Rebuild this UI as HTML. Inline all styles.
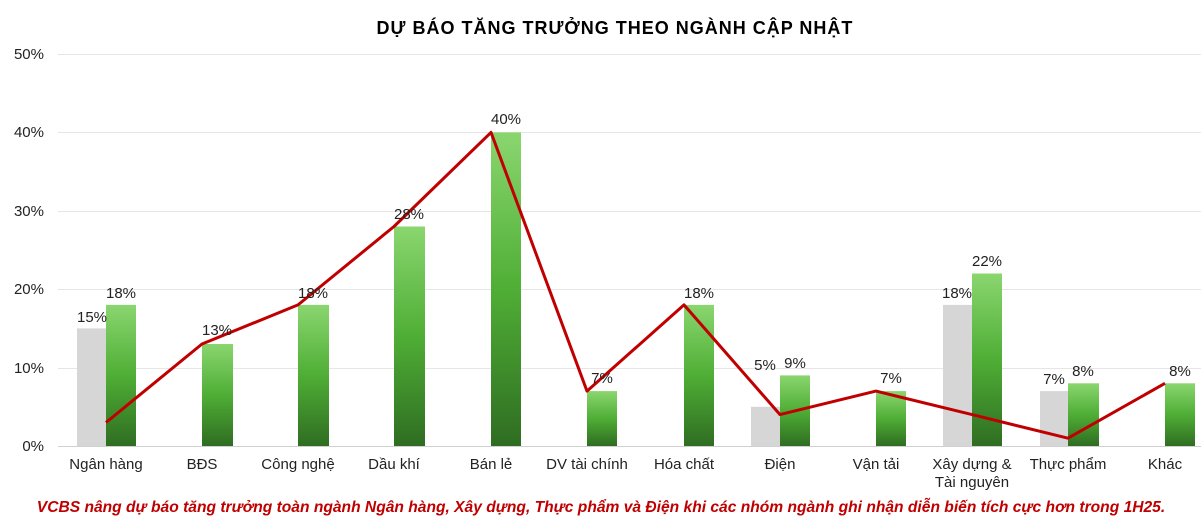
<!DOCTYPE html>
<html><head><meta charset="utf-8"><style>
body{margin:0;background:#fff;}
svg{display:block;font-family:"Liberation Sans",Arial,sans-serif;}
</style></head><body>
<svg width="1201" height="518" viewBox="0 0 1201 518" xmlns="http://www.w3.org/2000/svg">
<defs>
<linearGradient id="g" x1="0" y1="0" x2="0" y2="1">
<stop offset="0" stop-color="#8ad66f"/>
<stop offset="0.5" stop-color="#4fae35"/>
<stop offset="1" stop-color="#2f6d22"/>
</linearGradient>
</defs>
<text x="615" y="34" text-anchor="middle" font-size="18" font-weight="bold" letter-spacing="1" fill="#000">DỰ BÁO TĂNG TRƯỞNG THEO NGÀNH CẬP NHẬT</text>
<g stroke="#e6e6e6" stroke-width="1">
<line x1="58" x2="1201" y1="54.5" y2="54.5"/>
<line x1="58" x2="1201" y1="132.5" y2="132.5"/>
<line x1="58" x2="1201" y1="211.5" y2="211.5"/>
<line x1="58" x2="1201" y1="289.5" y2="289.5"/>
<line x1="58" x2="1201" y1="368.5" y2="368.5"/>
</g>
<line x1="58" x2="1201" y1="446.5" y2="446.5" stroke="#d0d0d0"/>
<g font-size="15" fill="#222" text-anchor="end">
<text x="44" y="59">50%</text>
<text x="44" y="137">40%</text>
<text x="44" y="216">30%</text>
<text x="44" y="294">20%</text>
<text x="44" y="373">10%</text>
<text x="44" y="451">0%</text>
</g>
<g fill="#d6d6d6">
<rect x="77" y="328.4" width="29" height="117.6"/>
<rect x="751" y="406.8" width="29" height="39.2"/>
<rect x="943" y="304.9" width="29" height="141.1"/>
<rect x="1040" y="391.1" width="28" height="54.9"/>
</g>
<g fill="url(#g)">
<rect x="106" y="304.9" width="30" height="141.1"/>
<rect x="202" y="344" width="31" height="102"/>
<rect x="298" y="304.9" width="31" height="141.1"/>
<rect x="394" y="226.5" width="31" height="219.5"/>
<rect x="491" y="132.4" width="30" height="313.6"/>
<rect x="587" y="391.1" width="30" height="54.9"/>
<rect x="684" y="304.9" width="30" height="141.1"/>
<rect x="780" y="375.4" width="30" height="70.6"/>
<rect x="876" y="391.1" width="30" height="54.9"/>
<rect x="972" y="273.5" width="30" height="172.5"/>
<rect x="1068" y="383.3" width="31" height="62.7"/>
<rect x="1165" y="383.3" width="30" height="62.7"/>
</g>
<polyline fill="none" stroke="#c00000" stroke-width="3" stroke-linejoin="round" points="106,422.5 202,344 298,304.9 394,226.5 491,132.4 587,391.1 684,304.9 780,414.6 876,391.1 972,414.6 1068,438.2 1165,383.3"/>
<g font-size="15" fill="#222" text-anchor="middle">
<text x="92" y="322">15%</text>
<text x="121" y="298">18%</text>
<text x="217" y="335">13%</text>
<text x="313" y="298">18%</text>
<text x="409" y="219">28%</text>
<text x="506" y="124">40%</text>
<text x="602" y="383">7%</text>
<text x="699" y="298">18%</text>
<text x="765" y="370">5%</text>
<text x="795" y="368">9%</text>
<text x="891" y="383">7%</text>
<text x="957" y="298">18%</text>
<text x="987" y="266">22%</text>
<text x="1054" y="384">7%</text>
<text x="1083" y="376">8%</text>
<text x="1180" y="376">8%</text>
</g>
<g font-size="15" fill="#222" text-anchor="middle">
<text x="106" y="469">Ngân hàng</text>
<text x="202" y="469">BĐS</text>
<text x="298" y="469">Công nghệ</text>
<text x="394" y="469">Dầu khí</text>
<text x="491" y="469">Bán lẻ</text>
<text x="587" y="469">DV tài chính</text>
<text x="684" y="469">Hóa chất</text>
<text x="780" y="469">Điện</text>
<text x="876" y="469">Vận tải</text>
<text x="972" y="469">Xây dựng &amp;</text>
<text x="972" y="487">Tài nguyên</text>
<text x="1068" y="469">Thực phẩm</text>
<text x="1165" y="469">Khác</text>
</g>
<text x="601" y="512" text-anchor="middle" font-size="15.6" font-weight="bold" font-style="italic" fill="#c00000">VCBS nâng dự báo tăng trưởng toàn ngành Ngân hàng, Xây dựng, Thực phẩm và Điện khi các nhóm ngành ghi nhận diễn biến tích cực hơn trong 1H25.</text>
</svg>
</body></html>
